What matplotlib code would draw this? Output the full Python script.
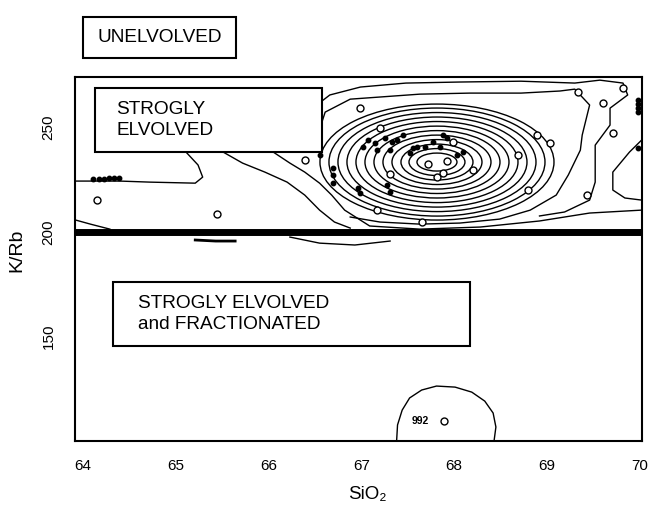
import matplotlib
matplotlib.use("Agg")
import matplotlib.pyplot as plt
from matplotlib.patches import Ellipse, Rectangle

plt.rcParams['font.family'] = ['Liberation Sans', 'DejaVu Sans']

# ---------------- data ----------------
x_ticks = [64, 65, 66, 67, 68, 69, 70]
x_tick_labels = ["64", "65", "66", "67", "68", "69", "70"]
y_ticks = [150, 200, 250]
y_tick_labels = ["150", "200", "250"]
boundary_krb = 200

# concentric density rings around the main maximum
ring_center = (67.815, 233.5)
ring_widths = [0.431, 0.603, 0.776, 0.970, 1.164, 1.358, 1.552, 1.746, 1.940, 2.134, 2.328, 2.522]
ring_heights = [8.6, 12.9, 17.2, 21.5, 25.8, 30.1, 34.4, 38.8, 43.1, 47.4, 51.7, 55.5]

# open / irregular contour lines (SiO2, K/Rb)
contA_x = [63.914, 64.40, 64.72, 65.21, 65.29, 65.24, 65.11]
contA_y = [224.4, 224.4, 223.9, 223.4, 226.3, 232.1, 238.3]
contB_x = [65.51, 65.72, 65.96, 66.20, 66.39, 66.55, 66.71, 66.88]
contB_y = [238.3, 233.0, 228.7, 223.9, 217.7, 210.5, 204.8, 201.9]
contC_x = [66.05, 66.23, 66.39, 66.55, 66.68, 66.82, 67.09, 67.63, 68.28, 68.92, 69.46, 70.02]
contC_y = [238.3, 233.0, 228.7, 223.4, 217.7, 210.5, 202.9, 201.4, 202.4, 205.3, 209.1, 210.5]
contD1_x = [66.39, 66.45, 66.66, 66.99, 67.48, 68.06, 68.72, 69.30, 69.57, 69.82, 69.87, 69.68,
            69.68, 69.52, 69.52, 69.46, 69.19, 68.92]
contD1_y = [239.2, 258.4, 265.6, 269.4, 271.3, 271.8, 272.2, 271.3, 272.7, 271.3, 265.6, 259.3,
            251.2, 241.6, 223.9, 215.3, 209.6, 207.7]
contD2_x = [66.53, 66.61, 66.88, 67.63, 68.17, 68.72, 69.14, 69.30, 69.46, 69.38, 69.36, 69.23,
            69.10, 68.82, 68.49, 68.06, 67.63, 67.20, 66.88]
contD2_y = [246.4, 257.4, 263.6, 266.0, 266.5, 266.5, 267.5, 268.4, 260.8, 246.4, 239.2, 227.3,
            217.7, 210.5, 206.2, 204.3, 203.8, 204.8, 207.2]
contE_x = [70.02, 69.89, 69.71, 69.71, 69.84, 70.02]
contE_y = [244.0, 238.3, 228.7, 220.1, 216.3, 215.3]
contG1_x = [65.21, 65.43, 65.64]
contG1_y = [196.2, 195.7, 195.7]
contG2_x = [66.23, 66.55, 66.93, 67.31]
contG2_y = [197.6, 194.7, 193.8, 195.7]
contG3_x = [63.925, 64.08, 64.29]
contG3_y = [205.7, 203.8, 201.4]
# small contour at the bottom
dome_x = [67.38, 67.39, 67.44, 67.52, 67.65, 67.81, 68.01, 68.19, 68.33, 68.42, 68.45, 68.43]
dome_y = [100.0, 107.7, 114.8, 120.6, 124.4, 126.3, 125.8, 123.4, 119.1, 113.4, 106.7, 100.0]
dome_label_x, dome_label_y, dome_label = 67.63, 109.6, "992"

# open-circle samples
open_x = [64.15, 65.44, 66.39, 66.99, 67.20, 67.31, 67.72, 67.92, 67.81, 67.88, 67.99, 68.20,
          67.17, 67.65, 69.33, 69.82, 69.60, 69.71, 68.89, 69.03, 68.69, 68.80, 69.43, 67.89]
open_y = [215.3, 208.6, 234.4, 259.3, 249.8, 227.8, 232.5, 234.0, 226.3, 228.2, 243.1, 229.7,
          210.5, 204.8, 267.0, 268.9, 261.7, 247.4, 246.4, 242.6, 236.8, 220.1, 217.7, 109.6]

# filled samples
dot_x = [64.11, 64.17, 64.23, 64.28, 64.33, 64.39,
         66.55, 66.69, 66.69, 66.69, 67.02, 67.07, 67.15, 67.17, 67.26, 67.33, 67.38, 67.45,
         67.31, 67.52, 67.56, 67.60, 67.69, 67.28, 66.96, 66.99, 67.31, 67.77, 67.85, 68.03,
         68.10, 67.88, 67.92, 69.98, 69.98, 69.98, 69.98, 69.98]
dot_y = [225.4, 225.4, 225.4, 225.8, 225.8, 225.8,
         236.8, 230.6, 227.3, 223.4, 240.7, 244.0, 242.6, 239.2, 245.0, 243.1, 244.0, 246.4,
         239.2, 237.8, 240.2, 240.7, 240.7, 222.5, 221.1, 218.7, 219.1, 243.1, 240.7, 236.8,
         238.3, 246.4, 245.0, 263.2, 261.2, 259.3, 257.4, 240.2]

# region labels
label_unevolved = "UNELVOLVED"
label_strong = "STROGLY\nELVOLVED"
label_fract = "STROGLY ELVOLVED\nand FRACTIONATED"

# ---------------- figure ----------------
fig = plt.figure(figsize=(6.52, 5.05), dpi=100)
ax = fig.add_axes([0.115, 0.1267, 0.8696, 0.7208])
ax.set_xlim(63.914, 70.024)
ax.set_ylim(100.0, 274.2)

lw = 1.0
for w, h in zip(ring_widths, ring_heights):
    ax.add_patch(Ellipse(ring_center, w, h, fill=False, edgecolor='black', lw=lw))

for xs, ys in [(contA_x, contA_y), (contB_x, contB_y), (contC_x, contC_y),
               (contD1_x, contD1_y), (contD2_x, contD2_y), (contE_x, contE_y),
               (contG2_x, contG2_y), (contG3_x, contG3_y), (dome_x, dome_y)]:
    ax.plot(xs, ys, color='black', lw=lw)
ax.plot(contG1_x, contG1_y, color='black', lw=2.0)

ax.plot(open_x, open_y, linestyle='none', marker='o', ms=5, mfc='white', mec='black', mew=1.0)
ax.plot(dot_x, dot_y, linestyle='none', marker='o', ms=3.2, color='black')
ax.text(dome_label_x, dome_label_y, dome_label, fontsize=7.5, fontweight='bold',
        ha='center', va='center')

ax.axhline(boundary_krb, color='black', lw=5)

for s in ax.spines.values():
    s.set_linewidth(1.5)

ax.set_xticks(x_ticks)
ax.set_xticklabels(x_tick_labels, fontsize=11)
ax.set_yticks(y_ticks)
ax.set_yticklabels(y_tick_labels, fontsize=11, rotation=90, va='center')
ax.tick_params(axis='x', length=0, pad=13)
ax.tick_params(axis='y', length=0, pad=14)

fig.text(0.563, 0.020, "SiO₂", fontsize=13.5, ha='center', va='center')
fig.text(0.026, 0.505, "K/Rb", fontsize=14, ha='center', va='center', rotation=90)

# region boxes (figure fraction)
fig.add_artist(Rectangle((0.1273, 0.8851), 0.2347, 0.0812, transform=fig.transFigure,
                         fill=False, edgecolor='black', lw=1.5))
fig.text(0.2454, 0.9257, label_unevolved, fontsize=13.7, ha='center', va='center')

fig.add_artist(Rectangle((0.1457, 0.6990), 0.3482, 0.1267, transform=fig.transFigure,
                         facecolor='white', edgecolor='black', lw=1.5, zorder=5))
fig.text(0.178, 0.7625, label_strong, fontsize=13.7, ha='left', va='center',
         linespacing=1.25, zorder=6)

fig.add_artist(Rectangle((0.1733, 0.3149), 0.5475, 0.1267, transform=fig.transFigure,
                         facecolor='white', edgecolor='black', lw=1.5, zorder=5))
fig.text(0.2117, 0.3782, label_fract, fontsize=13.7, ha='left', va='center',
         linespacing=1.25, zorder=6)

fig.savefig("out.png", dpi=100)
